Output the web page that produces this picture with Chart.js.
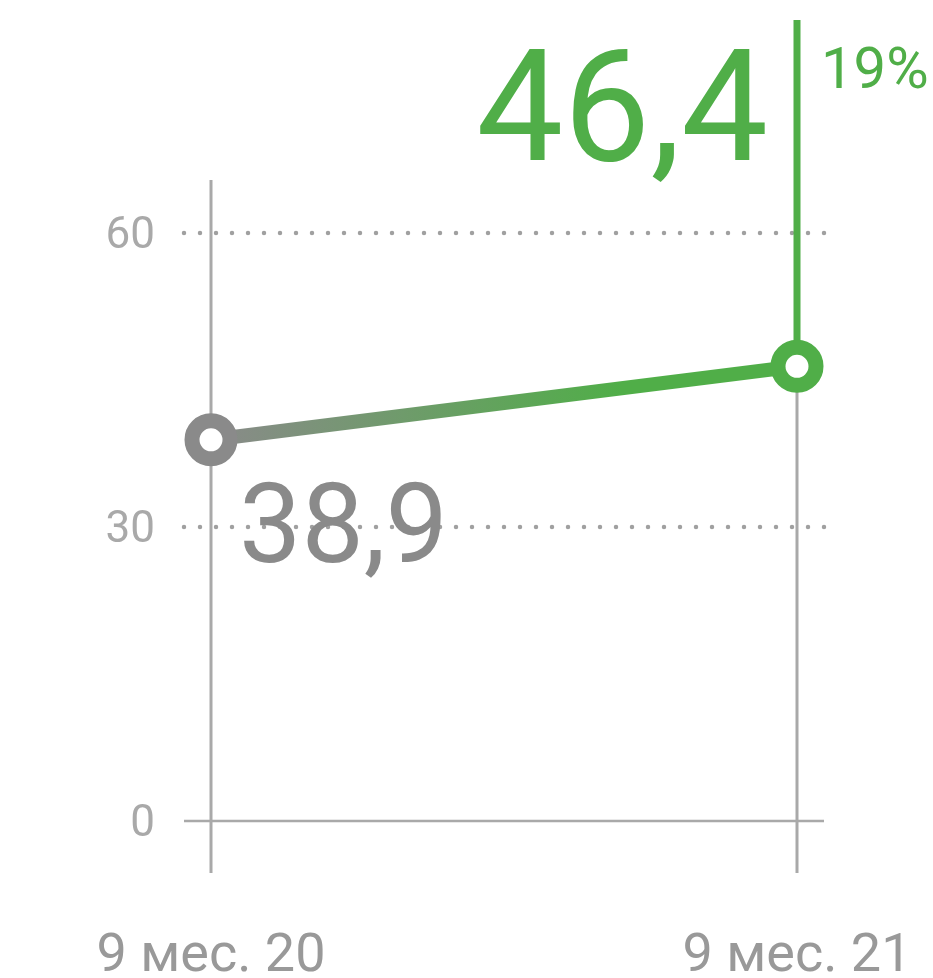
<!DOCTYPE html>
<html><head><meta charset="utf-8">
<script src="https://cdn.jsdelivr.net/npm/chart.js@4"></script>
<style>html,body{margin:0;padding:0;background:#fff}</style>
</head><body>
<canvas id="c" width="933" height="978"></canvas>
<script>
const categories = ['9 мес. 20', '9 мес. 21'];
const values = [38.9, 46.4];
const yTicks = [0, 30, 60];
const valueLabels = ['38,9', '46,4'];
const changeLabel = '19%';

const GREEN = '#50ae48';
const GRAY = '#8a8a8a';
const LIGHT = '#a9a9a9';
const FONT = 'Roboto';

const decor = {
  id: 'decor',
  beforeDatasetsDraw(chart) {
    const { ctx, chartArea: a, scales: { x, y } } = chart;
    ctx.save();
    ctx.strokeStyle = '#a0a0a0';
    ctx.lineWidth = 4.5;
    ctx.lineCap = 'round';
    ctx.setLineDash([0, 16]);
    yTicks.filter(v => v !== 0).forEach(v => {
      const py = y.getPixelForValue(v);
      ctx.beginPath();
      ctx.moveTo(a.left - 27, py);
      ctx.lineTo(a.right + 33, py);
      ctx.stroke();
    });
    ctx.setLineDash([]);
    ctx.lineCap = 'butt';
    ctx.strokeStyle = LIGHT;
    ctx.lineWidth = 2.5;
    const p0 = y.getPixelForValue(0);
    ctx.beginPath();
    ctx.moveTo(a.left - 27, p0);
    ctx.lineTo(a.right + 27, p0);
    ctx.stroke();
    ctx.lineWidth = 3;
    categories.forEach((c, i) => {
      const px = x.getPixelForValue(i);
      ctx.beginPath();
      ctx.moveTo(px, a.top - 53);
      ctx.lineTo(px, a.bottom + 52);
      ctx.stroke();
    });
    const meta = chart.getDatasetMeta(0);
    const last = meta.data[meta.data.length - 1];
    ctx.strokeStyle = GREEN;
    ctx.lineWidth = 7;
    ctx.beginPath();
    ctx.moveTo(last.x, 20);
    ctx.lineTo(last.x, last.y);
    ctx.stroke();
    ctx.restore();
  },
  afterDatasetsDraw(chart) {
    const { ctx } = chart;
    const meta = chart.getDatasetMeta(0);
    const first = meta.data[0];
    const last = meta.data[meta.data.length - 1];
    ctx.save();
    ctx.textBaseline = 'alphabetic';
    ctx.fillStyle = GREEN;
    ctx.textAlign = 'right';
    ctx.font = `400 155px ${FONT}`;
    ctx.fillText(valueLabels[1], last.x - 29, 160);
    ctx.textAlign = 'left';
    ctx.font = `400 58px ${FONT}`;
    ctx.fillText(changeLabel, last.x + 24, 88);
    ctx.fillStyle = GRAY;
    ctx.font = `400 111px ${FONT}`;
    ctx.fillText(valueLabels[0], first.x + 28, 562);
    ctx.restore();
  }
};

new Chart(document.getElementById('c'), {
  type: 'line',
  data: {
    labels: categories,
    datasets: [{
      data: values,
      clip: false,
      borderWidth: 14,
      borderColor(ctx) {
        const a = ctx.chart.chartArea;
        if (!a) return GRAY;
        const g = ctx.chart.ctx.createLinearGradient(a.left, 0, a.right, 0);
        g.addColorStop(0, GRAY);
        g.addColorStop(0.7, GREEN);
        g.addColorStop(1, GREEN);
        return g;
      },
      pointRadius: 19,
      pointBorderWidth: 15,
      pointBackgroundColor: '#ffffff',
      pointBorderColor: [GRAY, GREEN],
      tension: 0
    }]
  },
  options: {
    responsive: false,
    animation: false,
    devicePixelRatio: 1,
    layout: { padding: { left: 0, right: 136, top: 233, bottom: 0 } },
    plugins: { legend: { display: false }, tooltip: { enabled: false } },
    scales: {
      x: {
        type: 'category',
        offset: false,
        grid: { display: false, drawTicks: false },
        border: { display: false },
        ticks: { color: '#999999', font: { family: FONT, size: 54, weight: 400 }, padding: 104, maxRotation: 0, autoSkip: false },
        afterFit(s) { s.height = 157; s.paddingLeft = 0; s.paddingRight = 0; }
      },
      y: {
        min: 0, max: 60,
        afterBuildTicks(s) { s.ticks = yTicks.map(v => ({ value: v })); },
        grid: { display: false, drawTicks: false },
        border: { display: false },
        ticks: { color: LIGHT, font: { family: FONT, size: 44, weight: 400 }, padding: 56, labelOffset: 4 },
        afterFit(s) { s.width = 211; s.paddingTop = 0; s.paddingBottom = 0; }
      }
    }
  },
  plugins: [decor]
});
</script>
</body></html>
